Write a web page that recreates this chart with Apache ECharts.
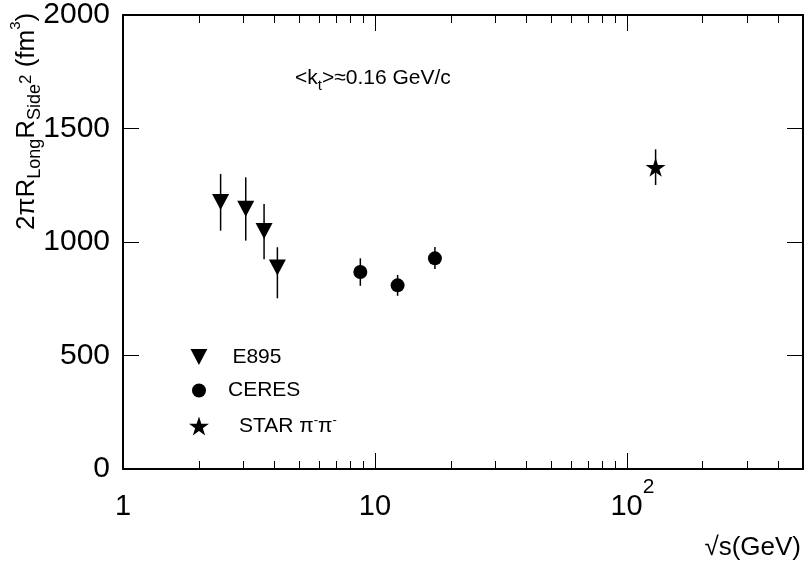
<!DOCTYPE html>
<html><head><meta charset="utf-8">
<script src="https://cdn.jsdelivr.net/npm/echarts@6/dist/echarts.min.js"></script>
<style>html,body{margin:0;padding:0;background:#fff}#c{width:805px;height:563px}</style>
</head><body><div id="c"></div>
<script>
const FONT = '"Liberation Sans", Arial, Helvetica, sans-serif';

// ---- data ----
const e895X  = [2.44, 3.07, 3.63, 4.10];
const e895Y  = [1176, 1147, 1049, 888];
const e895Lo = [1050, 1006, 924, 752];
const e895Hi = [1300, 1285, 1167, 977];

const ceresX  = [8.75, 12.3, 17.3];
const ceresY  = [868, 809, 928];
const ceresLo = [807, 763, 881];
const ceresHi = [928, 855, 978];

const starX  = [130];
const starY  = [1329];
const starLo = [1251];
const starHi = [1408];

const xMajorTicks = [1, 10, 100];
const xMinorTicks = [2, 3, 4, 5, 6, 7, 8, 9, 20, 30, 40, 50, 60, 70, 80, 90, 200, 300, 400];
const xMin = 1, xMax = 500;
const yMin = 0, yMax = 2000, yStep = 500;

const seriesNames = ['E895', 'CERES', 'STAR π-π-'];

// ---- shapes ----
const TRI_DOWN = 'path://M0,0L20,0L10,19Z';
const STAR = 'path://M0,-100L22.45,-30.9L95.11,-30.9L36.33,11.8L58.78,80.9L0,38.2L-58.78,80.9L-36.33,11.8L-95.11,-30.9L-22.45,-30.9Z';

const zip = (a, b) => a.map((v, i) => [v, b[i]]);
const zip3 = (a, b, c) => a.map((v, i) => [v, b[i], c[i]]);

function errRender(params, api) {
  const p1 = api.coord([api.value(0), api.value(1)]);
  const p2 = api.coord([api.value(0), api.value(2)]);
  return {type: 'line', shape: {x1: p1[0], y1: p1[1], x2: p2[0], y2: p2[1]},
          style: {stroke: '#000', lineWidth: 1.5}};
}
function errSeries(x, lo, hi) {
  return {type: 'custom', renderItem: errRender, data: zip3(x, lo, hi),
          encode: {x: 0, y: [1, 2]}, z: 1, silent: true};
}

function logAxis(pos, ticks, len, showLine, showLabel) {
  return {
    type: 'log', logBase: 10, min: xMin, max: xMax, position: pos, gridIndex: 0,
    axisLine: {show: showLine, onZero: false, lineStyle: {color: '#000', width: 2}},
    axisTick: {show: true, inside: true, length: len, customValues: ticks,
               lineStyle: {color: '#000', width: 1}},
    axisLabel: showLabel ? {
      show: true, customValues: xMajorTicks, margin: 8, color: '#000',
      formatter: function (v) {
        const e = Math.round(Math.log10(v));
        if (e === 0) return '{b|1}';
        if (e === 1) return '{b|10}';
        return '{b2|10}{s|' + e + '}';
      },
      rich: {
        b: {fontSize: 29, fontFamily: FONT, color: '#000', lineHeight: 59},
        b2: {fontSize: 29, fontFamily: FONT, color: '#000', lineHeight: 59, padding: [0, 0, 0, 11]},
        s: {fontSize: 21, fontFamily: FONT, color: '#000', lineHeight: 20, verticalAlign: 'top'}
      }
    } : {show: false},
    splitLine: {show: false}, minorTick: {show: false}
  };
}
function valAxis(pos, showLabel) {
  return {
    type: 'value', min: yMin, max: yMax, interval: yStep, position: pos,
    axisLine: {show: true, onZero: false, lineStyle: {color: '#000', width: 2}},
    axisTick: {show: true, inside: true, length: 16, lineStyle: {color: '#000', width: 1}},
    axisLabel: showLabel ? {show: true, margin: 13, fontSize: 30, fontFamily: FONT, color: '#000',
                            formatter: v => String(v)} : {show: false},
    splitLine: {show: false}
  };
}

const chart = echarts.init(document.getElementById('c'), null, {renderer: 'canvas'});
chart.setOption({
  animation: false,
  backgroundColor: '#fff',
  grid: {left: 123, right: 2, top: 15, bottom: 94, containLabel: false},
  xAxis: [
    logAxis('bottom', xMajorTicks, 16, true, true),
    logAxis('bottom', xMinorTicks, 8, false, false),
    logAxis('top', xMajorTicks, 16, true, false),
    logAxis('top', xMinorTicks, 8, false, false)
  ],
  yAxis: [valAxis('left', true), valAxis('right', false)],
  title: [
    {text: '{a|<k}{t|t}{a|>≈0.16 GeV/c}', left: 295, top: 63, padding: 0,
     textStyle: {fontWeight: 'normal', rich: {
       a: {fontSize: 21, fontFamily: FONT, color: '#000', fontWeight: 'normal', lineHeight: 30},
       t: {fontSize: 15, fontFamily: FONT, color: '#000', fontWeight: 'normal', lineHeight: 15, verticalAlign: 'bottom'}
     }}},
    {text: '√s(GeV)', right: 4, top: 535, padding: 0,
     textStyle: {fontSize: 26, fontFamily: FONT, color: '#000', fontWeight: 'normal', lineHeight: 26}}
  ],
  graphic: [{
    type: 'text', x: 26.5, y: 230, rotation: Math.PI / 2,
    style: {
      text: '{m|2πR}{sb|Long}{m|R}{sb|Side}{sp2|2}{m| (fm}{sp3|3}{m|)}',
      align: 'left', verticalAlign: 'middle', textAlign: 'left', textVerticalAlign: 'middle',
      fill: '#000',
      rich: {
        m: {fontSize: 26, fontFamily: FONT, fill: '#000', color: '#000', lineHeight: 36},
        sb: {fontSize: 18, fontFamily: FONT, fill: '#000', color: '#000', lineHeight: 16, verticalAlign: 'bottom'},
        sp2: {fontSize: 17, fontFamily: FONT, fill: '#000', color: '#000', lineHeight: 17, verticalAlign: 'middle'},
        sp3: {fontSize: 15, fontFamily: FONT, fill: '#000', color: '#000', lineHeight: 15, verticalAlign: 'top'}
      }
    }
  }],
  legend: [
    {left: 190.5, top: 346.5, padding: 0, itemWidth: 17, itemHeight: 16, selectedMode: false,
     data: [{name: seriesNames[0], icon: TRI_DOWN}],
     formatter: '{a|E895}',
     textStyle: {rich: {a: {fontSize: 21, fontFamily: FONT, color: '#000', lineHeight: 22, padding: [0, 0, 0, 20]}}}},
    {left: 192, top: 380, padding: 0, itemWidth: 14, itemHeight: 14, selectedMode: false,
     data: [{name: seriesNames[1], icon: 'circle'}],
     formatter: '{a|CERES}',
     textStyle: {rich: {a: {fontSize: 21, fontFamily: FONT, color: '#000', lineHeight: 22, padding: [0, 0, 0, 17]}}}},
    {left: 189, top: 414, padding: 0, itemWidth: 20, itemHeight: 19, selectedMode: false,
     data: [{name: seriesNames[2], icon: STAR}],
     formatter: '{a|STAR π}{s|-}{b|π}{s|-}',
     textStyle: {rich: {
       a: {fontSize: 21, fontFamily: FONT, color: '#000', lineHeight: 24, padding: [0, 0, 0, 25]},
       b: {fontSize: 21, fontFamily: FONT, color: '#000', lineHeight: 24},
       s: {fontSize: 13, fontFamily: FONT, color: '#000', lineHeight: 13, verticalAlign: 'top'}
     }}}
  ],
  series: [
    errSeries(e895X, e895Lo, e895Hi),
    errSeries(ceresX, ceresLo, ceresHi),
    errSeries(starX, starLo, starHi),
    {name: seriesNames[0], type: 'scatter', data: zip(e895X, e895Y), symbol: TRI_DOWN,
     symbolSize: [17, 16], itemStyle: {color: '#000', opacity: 1}, z: 3},
    {name: seriesNames[1], type: 'scatter', data: zip(ceresX, ceresY), symbol: 'circle',
     symbolSize: 14, itemStyle: {color: '#000', opacity: 1}, z: 3},
    {name: seriesNames[2], type: 'scatter', data: zip(starX, starY), symbol: STAR,
     symbolSize: [20, 19], itemStyle: {color: '#000', opacity: 1}, z: 3}
  ]
});
</script></body></html>
